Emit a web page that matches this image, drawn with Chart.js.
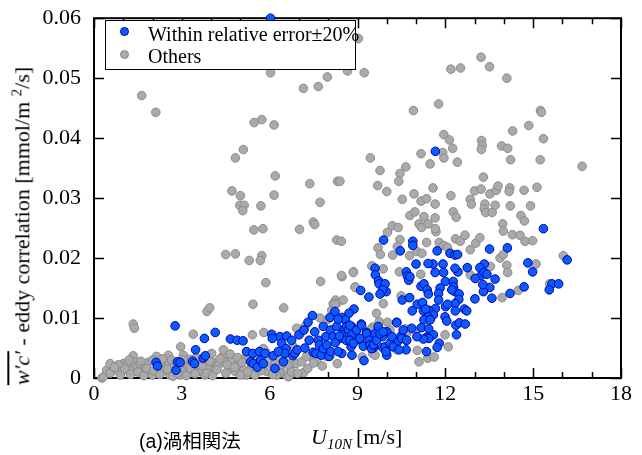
<!DOCTYPE html>
<html>
<head>
<meta charset="utf-8">
<script src="https://cdn.jsdelivr.net/npm/chart.js@4.4.1/dist/chart.umd.min.js"></script>
<style>
  body { margin: 0; background: #fff; }
  #wrap { position: relative; width: 642px; height: 455px; font-family: "Liberation Serif", serif; color: #000; }
  #chart { position: absolute; left: 0; top: 0; }
  .txt { position: absolute; white-space: nowrap; }
  #ytitle { left: 22px; top: 226px; font-size: 22px; transform: translate(-50%, -50%) rotate(-90deg); }
  #ytitle .wc { font-style: italic; text-decoration: overline; }
  #ytitle sup { font-size: 15px; }
  #xtitle { left: 311px; top: 424px; font-size: 22px; }
  #xtitle i sub { font-size: 15px; }
  #xtitle .unit { margin-left: 4px; }
  #caption { left: 139px; top: 425px; font-size: 19.5px; font-family: "Liberation Sans", "Noto Sans CJK JP", sans-serif; }
  #legend { left: 105px; top: 20px; width: 249px; height: 48px; border: 1.5px solid #000; background: #fff; }
  .row { position: absolute; left: 0; font-size: 20px; line-height: 20px; }
  .dot { position: absolute; left: 14px; width: 7px; height: 7px; border-radius: 50%; }
</style>
</head>
<body>
<div id="wrap">
  <canvas id="chart" width="642" height="455"></canvas>
  <div id="legend" class="txt">
    <span class="dot" style="top:6px;background:#0a5cff;border:1px solid #0000b0"></span>
    <span class="row" style="top:3px;left:42px">Within relative error±20%</span>
    <span class="dot" style="top:29px;background:#aaaaaa;border:1px solid #888"></span>
    <span class="row" style="top:25px;left:42px">Others</span>
  </div>
  <div id="ytitle" class="txt"><span class="wc">w′c′</span> - eddy correlation [mmol/m <sup>2</sup>/s]</div>
  <div id="xtitle" class="txt"><i>U<sub>10N</sub></i><span class="unit">[m/s]</span></div>
  <div id="caption" class="txt">(a)渦相関法</div>
</div>
<script>
const xTicks = [0, 3, 6, 9, 12, 15, 18];
const yTicks = [0, 0.01, 0.02, 0.03, 0.04, 0.05, 0.06];
const seriesNames = ["Within relative error±20%", "Others"];

// blue: within relative error ±20%  [U10N, flux]
const withinPts = [
  [6.03, 0.0600], [11.66, 0.0378], [15.35, 0.0249], [9.89, 0.0230], [10.89, 0.0228], [10.89, 0.0221],
  [13.51, 0.0215], [14.12, 0.0217], [10.46, 0.0212], [11.72, 0.0212], [12.16, 0.0208], [12.33, 0.0205],
  [12.42, 0.0206], [16.16, 0.0197], [14.82, 0.0192], [14.98, 0.0177], [15.64, 0.0157], [15.87, 0.0157],
  [15.55, 0.0147], [14.69, 0.0152], [14.21, 0.0141], [13.59, 0.0133], [13.52, 0.0151], [13.30, 0.0144],
  [13.28, 0.0156], [13.22, 0.0171], [13.33, 0.0190], [13.18, 0.0184], [13.32, 0.0176], [13.42, 0.0173],
  [13.70, 0.0165], [13.02, 0.0166], [13.01, 0.0132], [12.75, 0.0184], [12.43, 0.0177], [12.33, 0.0183],
  [11.92, 0.0190], [11.94, 0.0176], [12.00, 0.0161], [12.27, 0.0161], [12.28, 0.0152], [12.33, 0.0144],
  [12.22, 0.0147], [12.47, 0.0140], [12.46, 0.0131], [12.33, 0.0124], [12.65, 0.0115], [12.73, 0.0112],
  [12.34, 0.0112], [12.01, 0.0119], [12.08, 0.0123], [11.58, 0.0190], [11.41, 0.0191], [11.65, 0.0176],
  [11.17, 0.0153], [11.27, 0.0157], [11.38, 0.0147], [11.42, 0.0140], [11.82, 0.0150], [11.77, 0.0141],
  [11.77, 0.0130], [11.66, 0.0116], [11.43, 0.0113], [11.25, 0.0112], [11.20, 0.0124], [11.04, 0.0123],
  [10.87, 0.0112], [11.59, 0.0105], [11.41, 0.0102], [11.27, 0.0097], [11.48, 0.0097], [11.18, 0.0084],
  [11.43, 0.0082], [11.36, 0.0068], [11.59, 0.0072], [11.44, 0.0066], [11.25, 0.0065], [11.03, 0.0069],
  [10.85, 0.0083], [11.79, 0.0058], [11.72, 0.0051], [11.36, 0.0044], [11.99, 0.0102], [12.05, 0.0095],
  [12.36, 0.0088], [12.48, 0.0092], [12.38, 0.0072], [12.68, 0.0090], [10.67, 0.0177], [10.70, 0.0170],
  [10.75, 0.0163], [10.79, 0.0169], [11.00, 0.0190], [10.53, 0.0130], [10.78, 0.0134], [10.34, 0.0093],
  [11.22, 0.0126], [11.33, 0.0115], [9.60, 0.0183], [9.61, 0.0172], [9.72, 0.0162], [9.74, 0.0157],
  [9.94, 0.0157], [9.98, 0.0144], [9.86, 0.0147], [9.77, 0.0140], [9.39, 0.0135], [9.11, 0.0146],
  [8.88, 0.0115], [8.71, 0.0108], [8.57, 0.0097], [9.13, 0.0090], [8.97, 0.0080], [8.80, 0.0086],
  [8.72, 0.0080], [8.51, 0.0080], [8.46, 0.0072], [8.40, 0.0066], [8.61, 0.0063], [8.86, 0.0074],
  [9.06, 0.0064], [9.31, 0.0076], [9.49, 0.0058], [9.54, 0.0050], [9.63, 0.0063], [9.72, 0.0082],
  [10.00, 0.0077], [9.86, 0.0069], [9.86, 0.0051], [10.00, 0.0038], [10.22, 0.0058], [10.39, 0.0062],
  [10.49, 0.0070], [10.18, 0.0053], [8.81, 0.0038], [8.46, 0.0041], [9.22, 0.0029], [8.78, 0.0052],
  [10.67, 0.0063], [10.66, 0.0047], [8.47, 0.0101], [8.58, 0.0097], [8.63, 0.0086], [8.69, 0.0080],
  [8.74, 0.0088], [8.80, 0.0072], [8.74, 0.0063], [8.86, 0.0058], [8.97, 0.0080], [9.08, 0.0066],
  [9.14, 0.0088], [9.20, 0.0053], [9.31, 0.0074], [9.40, 0.0063], [9.43, 0.0055], [9.48, 0.0049],
  [9.54, 0.0055], [9.60, 0.0074], [9.65, 0.0063], [9.71, 0.0086], [9.77, 0.0074], [9.88, 0.0077],
  [9.94, 0.0052], [9.97, 0.0044], [10.11, 0.0058], [10.18, 0.0069], [10.22, 0.0052], [10.34, 0.0092],
  [10.42, 0.0047], [10.51, 0.0066], [10.56, 0.0080], [10.68, 0.0063],
  [6.35, 0.0069], [6.58, 0.0070], [6.41, 0.0058], [6.56, 0.0049], [6.75, 0.0063], [6.52, 0.0041],
  [6.79, 0.0037], [6.86, 0.0041], [6.47, 0.0027], [6.94, 0.0047], [7.00, 0.0072], [7.17, 0.0080],
  [7.31, 0.0093], [7.46, 0.0104], [7.20, 0.0050], [7.35, 0.0063], [7.49, 0.0043], [7.54, 0.0077],
  [7.58, 0.0041], [7.66, 0.0063], [7.70, 0.0055], [7.76, 0.0038], [7.83, 0.0086], [7.83, 0.0049],
  [7.92, 0.0069], [7.95, 0.0055], [8.02, 0.0036], [8.06, 0.0101], [8.08, 0.0080], [8.09, 0.0044],
  [8.17, 0.0069], [8.23, 0.0111], [8.24, 0.0059], [8.29, 0.0086], [8.34, 0.0098], [8.34, 0.0044],
  [8.38, 0.0070],
  [2.77, 0.0087], [2.12, 0.0026], [2.17, 0.0020], [2.80, 0.0013], [2.85, 0.0027], [2.94, 0.0026],
  [3.37, 0.0028], [3.43, 0.0024], [3.47, 0.0047], [3.73, 0.0033], [3.80, 0.0037], [3.77, 0.0066],
  [4.14, 0.0076], [4.66, 0.0065], [4.89, 0.0063], [5.09, 0.0062], [5.21, 0.0044], [5.42, 0.0041],
  [5.35, 0.0027], [5.44, 0.0024], [5.58, 0.0018], [5.65, 0.0044], [5.69, 0.0030], [5.78, 0.0024],
  [5.84, 0.0041], [6.12, 0.0037], [6.18, 0.0016], [6.07, 0.0073], [6.09, 0.0066], [6.29, 0.0044]
];

// gray: others
const otherPts = [
  [1.63, 0.0471], [2.11, 0.0443], [6.03, 0.0509], [7.15, 0.0483], [7.66, 0.0486], [7.97, 0.0502],
  [8.66, 0.0512], [9.03, 0.0566], [5.73, 0.0431], [9.23, 0.0509], [12.19, 0.0515], [12.52, 0.0517],
  [13.22, 0.0535], [13.51, 0.0519], [14.10, 0.0500], [15.25, 0.0446],
  [5.47, 0.0426], [6.15, 0.0422], [5.10, 0.0381], [4.83, 0.0367], [6.19, 0.0337], [6.15, 0.0305],
  [4.71, 0.0312], [5.00, 0.0304], [4.98, 0.0288], [5.13, 0.0288], [5.08, 0.0279], [5.70, 0.0287],
  [5.46, 0.0247], [5.77, 0.0249], [4.50, 0.0206], [4.83, 0.0207], [5.30, 0.0196], [5.73, 0.0204],
  [5.68, 0.0196], [5.87, 0.0159], [5.43, 0.0123], [6.48, 0.0117], [7.37, 0.0324], [7.72, 0.0293],
  [7.49, 0.0260], [7.54, 0.0256], [7.02, 0.0248], [8.29, 0.0230], [8.32, 0.0328], [7.74, 0.0161],
  [8.47, 0.0169], [8.86, 0.0177], [8.92, 0.0152], [3.86, 0.0111], [3.95, 0.0117], [1.34, 0.0090],
  [1.38, 0.0083], [2.96, 0.0052], [5.41, 0.0072], [5.80, 0.0076], [7.00, 0.0081], [8.25, 0.0130],
  [8.31, 0.0125], [7.16, 0.0009], [6.66, 0.0003], [5.87, 0.0043], [4.42, 0.0037], [1.34, 0.0037],
  [3.39, 0.0073],
  [11.77, 0.0457], [10.91, 0.0446], [15.28, 0.0443], [14.85, 0.0421], [14.30, 0.0412], [15.35, 0.0399],
  [11.95, 0.0406], [12.14, 0.0397], [13.24, 0.0396], [13.26, 0.0388], [13.23, 0.0381], [13.92, 0.0387],
  [14.13, 0.0383], [12.25, 0.0383], [11.91, 0.0376], [11.17, 0.0374], [9.44, 0.0367], [11.95, 0.0367],
  [12.41, 0.0360], [14.23, 0.0364], [15.24, 0.0364], [11.48, 0.0357], [16.67, 0.0353], [9.77, 0.0346],
  [10.65, 0.0352], [10.45, 0.0341], [10.41, 0.0328], [9.69, 0.0321], [10.00, 0.0311], [10.93, 0.0307],
  [11.58, 0.0317], [13.30, 0.0335], [13.00, 0.0312], [13.22, 0.0315], [13.52, 0.0307], [13.74, 0.0313],
  [13.80, 0.0320], [14.20, 0.0317], [14.18, 0.0311], [14.69, 0.0313], [15.13, 0.0318], [12.19, 0.0304],
  [10.53, 0.0298], [11.17, 0.0295], [11.36, 0.0299], [11.65, 0.0290], [12.85, 0.0298], [12.89, 0.0290],
  [13.35, 0.0290], [13.70, 0.0288], [13.33, 0.0282], [14.22, 0.0287], [14.91, 0.0287], [12.27, 0.0277],
  [10.79, 0.0271], [10.96, 0.0277], [11.27, 0.0269], [11.65, 0.0267], [12.37, 0.0268], [13.38, 0.0276],
  [13.60, 0.0276], [13.96, 0.0257], [13.98, 0.0245], [14.29, 0.0239], [14.55, 0.0238], [14.58, 0.0271],
  [14.70, 0.0262], [14.72, 0.0228], [14.98, 0.0229], [10.19, 0.0254], [10.39, 0.0251], [11.10, 0.0257],
  [11.19, 0.0251], [11.41, 0.0257], [11.68, 0.0244], [11.66, 0.0249], [10.02, 0.0243], [10.45, 0.0231],
  [9.70, 0.0217], [11.36, 0.0226], [11.79, 0.0226], [11.95, 0.0221], [12.07, 0.0218], [12.35, 0.0232],
  [12.51, 0.0228], [12.67, 0.0238], [13.04, 0.0225], [13.18, 0.0234], [12.85, 0.0214], [13.87, 0.0200],
  [13.98, 0.0206], [9.78, 0.0206], [10.20, 0.0205], [10.36, 0.0219], [10.78, 0.0204], [11.03, 0.0211],
  [11.20, 0.0208], [9.88, 0.0182], [9.49, 0.0187], [10.43, 0.0177], [11.16, 0.0173], [12.85, 0.0172],
  [13.54, 0.0186], [14.10, 0.0188], [14.13, 0.0176], [15.10, 0.0190], [16.03, 0.0204], [15.56, 0.0157],
  [14.49, 0.0146], [13.94, 0.0134], [8.86, 0.0176], [8.45, 0.0171], [10.49, 0.0137], [8.92, 0.0151],
  [9.74, 0.0094], [9.52, 0.0085], [10.02, 0.0093], [10.63, 0.0082], [11.00, 0.0078], [11.99, 0.0072],
  [12.10, 0.0052], [11.04, 0.0046], [11.40, 0.0033], [11.62, 0.0035], [11.10, 0.0027], [9.16, 0.0035],
  [9.52, 0.0041], [8.40, 0.0328], [8.45, 0.0228], [8.51, 0.0130], [9.43, 0.0080], [10.11, 0.0080],
  [10.68, 0.0074], [9.60, 0.0038], [10.34, 0.0047], [9.88, 0.0124], [9.65, 0.0108],
  [8.17, 0.0124], [6.92, 0.0083], [7.21, 0.0086], [7.04, 0.0074], [6.60, 0.0024], [6.69, 0.0019],
  [6.90, 0.0024], [7.09, 0.0027], [7.38, 0.0036], [7.61, 0.0027], [8.06, 0.0036], [8.31, 0.0024],
  [6.35, 0.0013], [6.56, 0.0005], [6.41, 0.0022], [7.26, 0.0036], [7.72, 0.0100], [8.00, 0.0098],
  [9.26, 0.0058], [0.27, 0.0000], [1.00, 0.0024], [3.88, 0.0037], [4.76, 0.0030], [5.38, 0.0019],
  [6.35, 0.0008], [6.64, 0.0002], [6.81, 0.0052], [7.49, 0.0041], [7.95, 0.0036], [8.12, 0.0113],
  [8.23, 0.0123],
  [0.32, 0.0002], [0.43, 0.0013], [0.60, 0.0011], [0.83, 0.0022], [0.95, 0.0011], [1.12, 0.0022],
  [1.21, 0.0012], [1.34, 0.0027], [1.46, 0.0019], [1.57, 0.0024], [1.63, 0.0011], [1.74, 0.0019],
  [1.85, 0.0026], [1.91, 0.0011], [2.00, 0.0005], [2.31, 0.0022], [2.42, 0.0013], [2.54, 0.0027],
  [2.60, 0.0005], [2.71, 0.0016], [3.00, 0.0022], [3.11, 0.0011], [3.22, 0.0019], [3.28, 0.0031],
  [3.56, 0.0022], [3.62, 0.0011], [3.79, 0.0005], [3.90, 0.0019], [4.02, 0.0027], [4.13, 0.0013],
  [4.25, 0.0022], [4.40, 0.0036], [4.47, 0.0026], [4.62, 0.0016], [4.70, 0.0030], [4.82, 0.0011],
  [4.96, 0.0022], [5.04, 0.0031], [5.12, 0.0013], [5.21, 0.0005], [5.78, 0.0049], [5.90, 0.0011],
  [6.01, 0.0019], [6.24, 0.0005], [6.64, 0.0022], [3.39, 0.0013], [2.94, 0.0005], [2.14, 0.0036],
  [2.54, 0.0038], [3.05, 0.0038], [4.02, 0.0041], [4.42, 0.0047], [0.55, 0.0024],
  [0.55, 0.0008], [0.70, 0.0018], [0.90, 0.0005], [1.05, 0.0015], [1.20, 0.0030], [1.25, 0.0006],
  [1.50, 0.0010], [1.60, 0.0028], [1.70, 0.0004], [1.80, 0.0016], [2.00, 0.0030], [2.05, 0.0012],
  [2.25, 0.0006], [2.35, 0.0032], [2.50, 0.0015], [2.65, 0.0030], [2.70, 0.0003], [2.85, 0.0008],
  [3.05, 0.0030], [3.15, 0.0004], [3.30, 0.0016], [3.45, 0.0007], [3.50, 0.0034], [3.70, 0.0020],
  [3.85, 0.0008], [3.95, 0.0028], [4.05, 0.0004], [4.20, 0.0014], [4.30, 0.0032], [4.50, 0.0008],
  [4.55, 0.0022], [4.65, 0.0040], [4.80, 0.0018], [4.90, 0.0034], [5.00, 0.0005], [5.05, 0.0026],
  [5.25, 0.0010], [5.30, 0.0034], [5.50, 0.0005], [5.55, 0.0030], [5.70, 0.0012], [5.95, 0.0028],
  [6.10, 0.0006], [6.20, 0.0025], [6.45, 0.0035], [6.75, 0.0010], [6.95, 0.0008], [7.30, 0.0016],
  [7.50, 0.0025], [7.80, 0.0020]
];

const toXY = (pts) => pts.map(([x, y]) => ({ x, y }));

// frame + inward ticks, drawn under the markers
const framePlugin = {
  id: "frame",
  beforeDatasetsDraw(chart) {
    const { ctx, chartArea: a, scales } = chart;
    ctx.save();
    ctx.strokeStyle = "#000";
    ctx.lineWidth = 2;
    ctx.strokeRect(a.left, a.top, a.right - a.left, a.bottom - a.top);
    ctx.lineWidth = 1.5;
    ctx.beginPath();
    for (let v = 0; v <= 18; v++) {
      const px = Math.round(scales.x.getPixelForValue(v)) + 0.5;
      const len = v % 3 === 0 ? 10 : 6;
      ctx.moveTo(px, a.bottom);
      ctx.lineTo(px, a.bottom - len);
      ctx.moveTo(px, a.top);
      ctx.lineTo(px, a.top + len);
    }
    yTicks.forEach((v) => {
      const py = Math.round(scales.y.getPixelForValue(v)) + 0.5;
      ctx.moveTo(a.left, py);
      ctx.lineTo(a.left + 10, py);
      ctx.moveTo(a.right, py);
      ctx.lineTo(a.right - 10, py);
    });
    ctx.stroke();
    ctx.restore();
  },
};

const tickFont = { family: "Liberation Serif", size: 22 };

new Chart(document.querySelector("#chart"), {
  type: "scatter",
  data: {
    datasets: [
      {
        label: seriesNames[0],
        data: toXY(withinPts),
        backgroundColor: "#0a5cff",
        borderColor: "#0000b0",
        borderWidth: 1,
        pointRadius: 4.3,
        clip: false,
      },
      {
        label: seriesNames[1],
        data: toXY(otherPts),
        backgroundColor: "#aaaaaa",
        borderColor: "#8a8a8a",
        borderWidth: 1,
        pointRadius: 4.3,
        clip: false,
      },
    ],
  },
  options: {
    responsive: false,
    animation: false,
    devicePixelRatio: 1,
    layout: { padding: { left: 0, right: 21, top: 18, bottom: 0 } },
    plugins: { legend: { display: false }, tooltip: { enabled: false } },
    scales: {
      x: {
        type: "linear",
        min: 0,
        max: 18,
        afterFit: (s) => { s.height = 77; },
        afterBuildTicks: (s) => { s.ticks = xTicks.map((v) => ({ value: v })); },
        grid: { display: false },
        border: { display: false },
        ticks: { color: "#000", font: tickFont, padding: -5, maxRotation: 0, callback: (v) => String(v) },
      },
      y: {
        type: "linear",
        min: 0,
        max: 0.06,
        afterFit: (s) => { s.width = 94; },
        afterBuildTicks: (s) => { s.ticks = yTicks.map((v) => ({ value: v })); },
        grid: { display: false },
        border: { display: false },
        ticks: { color: "#000", font: tickFont, padding: 5, callback: (v) => (v === 0 ? "0" : v.toFixed(2)) },
      },
    },
  },
  plugins: [framePlugin],
});
</script>
</body>
</html>
